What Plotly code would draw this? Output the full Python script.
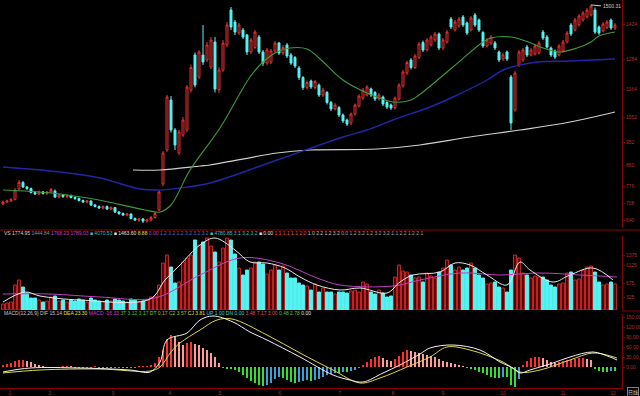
import plotly.graph_objects as go

# ---------------- data ----------------
opens = [704,712,716,722,764,790,772,766,750,744,
         752,746,752,756,732,740,734,738,730,726,
         718,712,716,700,694,688,694,684,690,672,
         666,660,664,646,640,644,636,640,650,680,
         784,920,1120,1000,908,980,1000,1160,1300,1212,
         1300,1280,1252,1352,1160,1240,1340,1480,1432,1388,
         1400,1380,1312,1330,1372,1312,1268,1272,1316,1348,
         1308,1340,1300,1290,1248,1210,1170,1196,1170,1180,
         1140,1150,1110,1084,1090,1060,1040,1028,1064,1096,
         1128,1140,1164,1150,1124,1132,1110,1100,1088,1124,
         1176,1228,1280,1250,1290,1350,1320,1340,1360,1384,
         1328,1352,1444,1400,1416,1452,1428,1400,1460,1440,
         1390,1336,1348,1348,1312,1284,1312,1212,1080,1260,
         1280,1332,1300,1304,1308,1392,1372,1328,1316,1300,
         1316,1352,1420,1400,1420,1440,1452,1460,1480,1412,
         1396,1410,1440,1408]
closes = [712,716,722,760,790,772,766,750,744,752,
          746,752,762,732,740,734,738,730,726,718,
          712,716,700,694,688,694,684,690,672,666,
          660,664,646,640,644,636,640,650,666,752,
          908,1132,1000,940,992,1040,1172,1250,1180,1312,
          1272,1340,1360,1164,1240,1348,1420,1412,1392,1420,
          1372,1312,1360,1392,1312,1268,1320,1316,1348,1308,
          1330,1296,1268,1256,1210,1170,1190,1172,1194,1140,
          1160,1110,1084,1100,1060,1036,1024,1064,1100,1136,
          1160,1172,1140,1124,1140,1104,1092,1088,1128,1180,
          1232,1270,1250,1296,1344,1320,1360,1372,1384,1328,
          1360,1392,1412,1432,1444,1420,1388,1448,1420,1400,
          1336,1360,1372,1328,1280,1300,1284,1028,1228,1312,
          1320,1300,1320,1336,1348,1368,1332,1300,1292,1336,
          1352,1388,1384,1440,1456,1468,1480,1496,1392,1388,
          1424,1432,1408,1420]
highs = [718,722,728,768,800,796,776,770,756,758,
         756,756,768,762,744,744,742,742,734,730,
         722,720,718,704,698,698,698,694,692,676,
         670,668,666,650,648,648,646,656,672,760,
         916,1140,1136,1008,1000,1052,1180,1262,1310,1320,
         1420,1352,1372,1372,1252,1360,1432,1492,1440,1428,
         1408,1384,1368,1400,1380,1320,1328,1324,1356,1352,
         1340,1348,1308,1296,1256,1216,1198,1202,1200,1186,
         1168,1156,1116,1108,1096,1066,1046,1070,1106,1142,
         1168,1180,1170,1156,1148,1138,1116,1106,1134,1188,
         1240,1278,1288,1304,1352,1358,1368,1380,1392,1390,
         1368,1400,1452,1440,1452,1460,1434,1456,1468,1446,
         1396,1368,1380,1356,1318,1308,1318,1220,1236,1320,
         1328,1340,1328,1344,1356,1400,1380,1334,1322,1344,
         1360,1396,1428,1448,1464,1476,1488,1500.31,1490,1418,
         1432,1440,1446,1428]
lows = [700,708,712,718,760,768,760,746,740,740,
        742,740,748,728,726,728,728,726,720,714,
        708,706,696,690,684,682,680,678,668,660,
        656,654,642,636,632,628,630,634,646,676,
        776,912,990,920,900,972,992,1150,1170,1204,
        1260,1272,1244,1150,1148,1232,1332,1400,1380,1380,
        1364,1300,1304,1324,1304,1256,1260,1264,1308,1300,
        1300,1288,1260,1248,1200,1160,1162,1164,1162,1132,
        1132,1102,1076,1078,1052,1028,1016,1020,1058,1090,
        1120,1134,1132,1116,1118,1096,1084,1080,1082,1118,
        1170,1220,1242,1244,1284,1312,1314,1334,1352,1320,
        1320,1346,1404,1394,1410,1412,1380,1394,1412,1392,
        1328,1330,1340,1320,1272,1276,1276,1000,1072,1252,
        1272,1292,1294,1298,1302,1360,1326,1292,1284,1294,
        1310,1346,1376,1394,1414,1434,1446,1454,1384,1380,
        1390,1404,1400,1400]
volumes = [150,175,200,625,750,575,425,300,300,250,
           200,225,325,350,225,250,200,250,225,275,
           250,200,300,250,225,200,250,225,275,250,
           225,200,275,250,200,225,250,325,350,625,
           1175,1375,1075,675,700,1200,1300,1375,1750,1625,
           1700,1800,1600,1450,1200,1550,1800,1750,1400,1050,
           875,1000,1050,1200,1200,1150,900,1000,1125,1000,
           1100,925,800,800,675,625,600,500,650,450,
           550,450,450,400,450,450,425,475,500,450,
           700,650,450,400,500,425,325,350,825,1125,
           975,950,875,800,825,700,925,850,800,950,
           1050,1250,1125,1000,1075,1000,1050,1175,1050,875,
           800,650,675,700,575,550,450,1000,1375,1300,
           925,875,800,850,825,825,750,625,575,650,
           675,925,950,750,775,1000,1075,1100,950,700,
           625,650,700,650]
macd_hist = [6,9,12,18,21,21,18,15,9,6,3,
             -2,-3,-2,-1,1,2,1,-1,-2,-3,-2,-1,1,-1,-2,-3,-3,-2,-1,-2,-3,-2,-1,1,2,3,
             6,12,30,51,84,96,90,75,66,72,75,69,66,57,51,42,30,12,
             -3,-6,-6,-9,-15,-24,-33,-42,-48,-54,-57,-54,-48,-36,-30,-33,-39,-45,-48,-45,
             -42,-39,-42,-39,-36,-30,-24,-21,-18,-18,-15,-15,-12,-9,-3,
             6,15,24,30,33,27,21,18,24,33,45,51,48,45,42,39,36,33,30,24,18,15,12,9,6,3,
             -3,-6,-9,-15,-18,-24,-30,-33,-33,-30,-30,-54,-60,-36,
             6,18,27,30,30,27,21,15,12,15,18,21,21,24,27,27,24,21,
             -6,-12,-15,-15,-12,-12]

# moving-average lines, read at sample positions (candle index, value)
ma20_idx = [0,12,24,35.5,39.25,42,46.75,54.25,61.75,65,68.5,71.75,76,79,85,91,97.5,102,104,112.5,120,122,127,132,135,139,143.5,147,149,153]
ma20_val = [760,748,720,680,672,700,840,1008,1212,1272,1312,1328,1324,1288,1200,1148,1112,1120,1140,1252,1352,1368,1372,1348,1328,1312,1328,1352,1376,1392]
ma60_idx = [0,14.25,24.25,34.25,39.25,44.25,51.75,68.5,85,91,97.5,106.75,112.5,121,125,129.25,133.5,141.75,153]
ma60_val = [852,832,808,764,760,768,788,880,972,1000,1040,1092,1132,1200,1240,1260,1272,1276,1284]
ma120_idx = [32.5,39.25,49.25,51.75,68.5,76.75,93.5,104.25,116.75,129.25,141.75,153]
ma120_val = [840,840,856,860,908,920,924,940,972,1000,1032,1072]

vma5_idx = [0,5.5,9.25,19.25,36.75,40.5,44.25,49.25,53,58,61.75,66,70.5,74.25,78.5,84.25,89.25,96,99.25,102.5,109.25,113,116.75,121,126,129.25,131.75,137.5,141.75,147.5,152.5]
vma5_val = [200,450,350,250,275,750,1125,1625,1800,1500,1200,1175,1050,825,625,500,550,425,700,875,950,1175,1125,875,625,1200,1000,700,875,1050,750]
vma10_idx = [0,11.75,24.25,38,49.25,59.25,69.25,78.5,84.25,97.5,104.25,114.25,124.25,134.25,144.25,153.5]
vma10_val = [400,400,325,300,875,1300,1175,800,625,600,750,925,875,925,875,825]

dif_idx = [0,6.75,19.25,31.75,36.75,39.25,41,46,49.25,52.5,57.5,61.75,66,74.25,82.5,86.75,90,95,99.25,104.25,106.75,112.5,119.25,124.25,127.5,129.25,131.75,137.5,141.75,147.5,151.75,153.5]
dif_val = [-15,-3,-3,-9,-15,15,81,102,141,153,135,105,81,30,-24,-39,-45,-18,6,39,57,66,51,15,-3,-18,-9,12,30,45,30,21]
dea_idx = [0,9.25,24.25,36.75,39.25,42,44.25,49.25,53.5,57.25,66,74.25,82.5,89.25,94.25,101,106.75,111,116.75,125,129.25,134.25,141.75,147.5,153.5]
dea_val = [-18,-9,-6,-12,0,45,72,111,141,144,96,42,-9,-48,-33,0,30,60,51,15,-15,-9,21,42,27]

price_ticks = [1424, 1284, 1164, 1052, 952, 860, 776, 708, 640]
vol_ticks = [1375, 1125, 675, 325]
macd_ticks = [150, 120, 90, 60, 30, 0]
date_tick_idx = [1.75, 11.75, 27.5, 41.75, 54.25, 69.25, 84.25, 97.5, 110, 125, 140, 152.5]
date_tick_text = ["1", "2", "3", "4", "5", "6", "7", "8", "9", "10", "11", "12"]
peak_label = "1500.31"

vol_header = [("VS 1774.95", "#d0d0d0"), ("1444.84", "#909090"),
              ("1768.23 1789.03", "#c040c0"), ("■ 4070.53", "#30c0c0"),
              ("■ 1463.60", "#e0e0e0"), ("8.88", "#e0e040"),
              ("0.00", "#c040c0"), ("1.2 3.2 1.2 3.2 3.2 3.2", "#5070c0"),
              ("■ 4780.85 3.1 3.2 3.2", "#30c0c0"), ("■ 0.00", "#e0e0e0"),
              ("1.1 1.1 1.1 2.0", "#e05050"), ("1.0 2.2 1.2 3.2", "#c0c0c0"),
              ("0.0 1.2 3.2 1.2 3.2 3.2 1.1 2.2 1.2 2.1", "#a0a0a0")]
macd_header = [("MACD(12,26,9) DIF 15.14", "#c8c8c8"), ("DEA 23.30", "#e0e040"),
               ("MACD -16.33", "#d040d0"), ("3T 3.12 3.17", "#40c040"),
               ("DT 0.17 C2 3.57", "#a0c040"), ("CJ 3.81", "#e0e040"),
               ("UP 1.00 DN 0.00", "#40d0d0"),
               ("3.48 7.17 3.00", "#e05050"), ("0.48 2.78", "#40d040"),
               ("0.00", "#e0e0e0")]

# ---------------- figure ----------------
W, H = 640, 396
def py(px):
    return 1 - px / H

n = len(opens)
idx = list(range(n))
RED = "#e83030"
CYAN = "#54f4f4"

up = [c >= o for o, c in zip(opens, closes)]
vol_fill = ["#4a0606" if u else CYAN for u in up]
vol_line = ["#c82424" if u else CYAN for u in up]

hist_col = []
for k, v in enumerate(macd_hist):
    prev = macd_hist[k - 1] if k > 0 else 0
    if v >= 0:
        hist_col.append("#ff3030" if v >= prev else "#ff9a9a")
    else:
        hist_col.append("#30e030" if v <= prev else "#3aa0d8")

fig = go.Figure()
fig.add_trace(go.Candlestick(
    x=idx, open=opens, high=highs, low=lows, close=closes,
    increasing=dict(line=dict(color=RED, width=1), fillcolor="#1a0000"),
    decreasing=dict(line=dict(color=CYAN, width=1), fillcolor=CYAN),
    whiskerwidth=0, xaxis="x", yaxis="y", hoverinfo="skip"))
fig.add_trace(go.Scatter(x=ma120_idx, y=ma120_val, mode="lines", line=dict(color="#cfcfcf", width=1.2, shape="spline"), yaxis="y"))
fig.add_trace(go.Scatter(x=ma60_idx, y=ma60_val, mode="lines", line=dict(color="#2424a8", width=1.4, shape="spline"), yaxis="y"))
fig.add_trace(go.Scatter(x=ma20_idx, y=ma20_val, mode="lines", line=dict(color="#3c9c3c", width=1.1, shape="spline"), yaxis="y"))

fig.add_trace(go.Bar(x=idx, y=volumes, width=0.72, marker=dict(color=vol_fill, line=dict(color=vol_line, width=1)), yaxis="y2"))
fig.add_trace(go.Scatter(x=vma10_idx, y=vma10_val, mode="lines", line=dict(color="#c040c0", width=1, shape="spline"), yaxis="y2"))
fig.add_trace(go.Scatter(x=vma5_idx, y=vma5_val, mode="lines", line=dict(color="#e8e8e8", width=1, shape="spline"), yaxis="y2"))

fig.add_trace(go.Bar(x=idx, y=macd_hist, width=0.4, marker=dict(color=hist_col, line=dict(width=0)), yaxis="y3"))
fig.add_trace(go.Scatter(x=dea_idx, y=dea_val, mode="lines", line=dict(color="#e0d840", width=1, shape="spline"), yaxis="y3"))
fig.add_trace(go.Scatter(x=dif_idx, y=dif_val, mode="lines", line=dict(color="#f0f0f0", width=1, shape="spline"), yaxis="y3"))

xr = 622 / W
axis_common = dict(showgrid=False, zeroline=False, side="right", showline=True,
                   linecolor="#8a0000", linewidth=1, ticks="outside", ticklen=2,
                   tickcolor="#8a0000", tickfont=dict(size=5, color="#b03030", family="Liberation Sans"),
                   automargin=False, fixedrange=True)

def header_html(segments):
    return "&nbsp;".join('<span style="color:%s">%s</span>' % (c, t) for t, c in segments)

annotations = [
    dict(text=header_html(vol_header), x=2 / W, y=py(233), xref="paper", yref="paper",
         xanchor="left", yanchor="middle", showarrow=False,
         font=dict(size=5, color="#c0c0c0", family="Liberation Sans")),
    dict(text=header_html(macd_header), x=2 / W, y=py(313), xref="paper", yref="paper",
         xanchor="left", yanchor="middle", showarrow=False,
         font=dict(size=5, color="#c0c0c0", family="Liberation Sans")),
]
pk = highs.index(max(highs))
annotations.append(dict(text=peak_label, x=pk, y=max(highs), xref="x", yref="y",
                        xanchor="left", yanchor="middle", showarrow=True, arrowhead=0,
                        arrowcolor="#d0d0d0", arrowwidth=1, ax=10, ay=1,
                        font=dict(size=5, color="#d0d0d0", family="Liberation Sans")))
annotations.append(dict(text="日线", x=633 / W, y=py(392), xref="paper", yref="paper",
                        xanchor="center", yanchor="middle", showarrow=False,
                        bordercolor="#808080", borderwidth=1, borderpad=0,
                        font=dict(size=5, color="#d0d0d0", family="Noto Sans CJK SC")))

shapes = [
    dict(type="line", xref="paper", yref="paper", x0=0, x1=1, y0=py(230), y1=py(230), line=dict(color="#8a0000", width=1)),
    dict(type="line", xref="paper", yref="paper", x0=xr, x1=1, y0=py(311), y1=py(311), line=dict(color="#8a0000", width=1)),
]

fig.update_layout(
    width=W, height=H, margin=dict(l=0, r=0, t=0, b=0),
    paper_bgcolor="#000000", plot_bgcolor="#000000", showlegend=False,
    hovermode=False,
    xaxis=dict(domain=[0, xr], range=[-0.75, 154.75], anchor="y3", showgrid=False, zeroline=False,
               showline=True, linecolor="#8a0000", ticks="", rangeslider=dict(visible=False),
               tickvals=date_tick_idx, ticktext=date_tick_text,
               tickfont=dict(size=5, color="#a03030", family="Liberation Sans"), automargin=False, fixedrange=True),
    yaxis=dict(domain=[py(228), py(0)], range=[608, 1520], anchor="x",
               tickvals=price_ticks, ticktext=[str(v) for v in price_ticks], **axis_common),
    yaxis2=dict(domain=[py(310), py(236)], range=[0, 1850], anchor="x",
                tickvals=vol_ticks, ticktext=[str(v) for v in vol_ticks], **axis_common),
    yaxis3=dict(domain=[py(388), py(314)], range=[-63, 159], anchor="x",
                tickvals=macd_ticks, ticktext=["%.2f" % v for v in macd_ticks], **axis_common),
    annotations=annotations, shapes=shapes,
)

fig.write_html("out.html")
